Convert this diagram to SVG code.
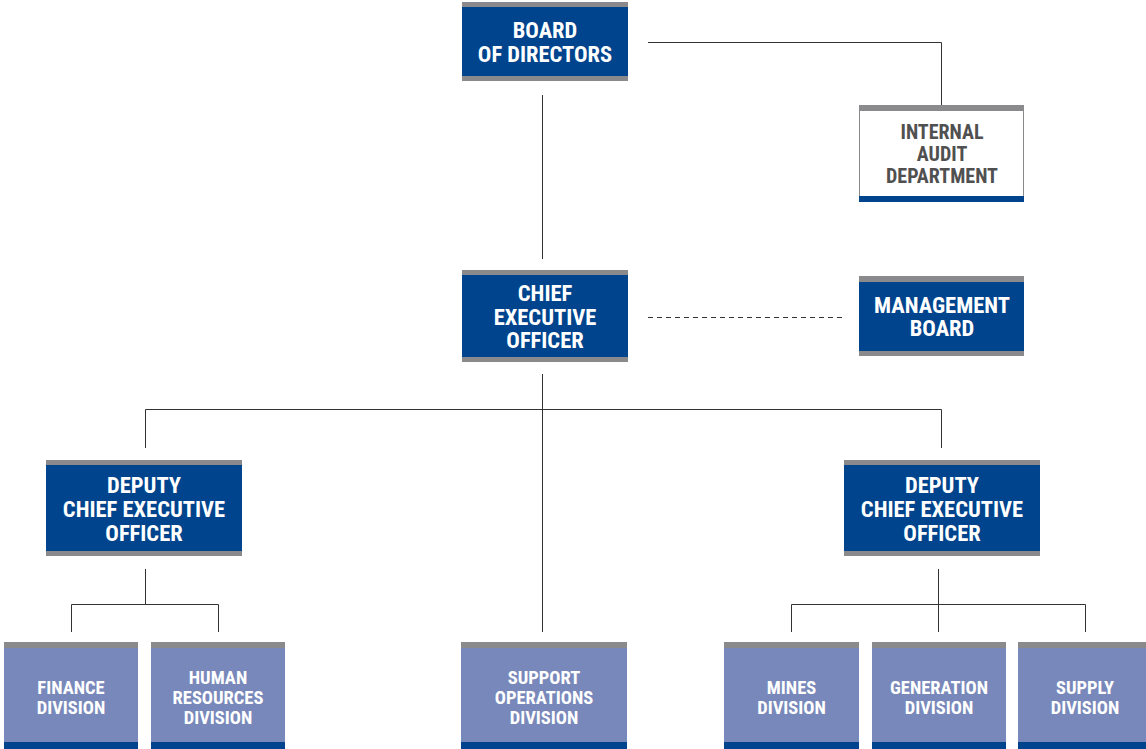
<svg xmlns="http://www.w3.org/2000/svg" width="1146" height="749" viewBox="0 0 1146 749">
<style>
.dk{fill:#00448d}
.lt{fill:#7888ba}
.gr{fill:#8a8a8c}
.bl{fill:#00448d}
.t{font-family:"Liberation Sans Narrow","Roboto Condensed","DejaVu Sans Condensed",sans-serif;font-weight:bold;fill:#fff;text-anchor:middle}
.big{font-size:22.5px}
.sm{font-size:18.5px}
.ia{font-size:20px;fill:#505050}
.c{stroke:#333;stroke-width:1;fill:none}
</style>
<rect width="1146" height="749" fill="#fff"/>
<g id="connectors">
<polyline class="c" points="648,42.5 941.5,42.5 941.5,105"/>
<line class="c" x1="542.5" y1="95" x2="542.5" y2="259"/>
<line class="c" x1="648" y1="317.5" x2="843" y2="317.5" stroke-dasharray="5,4"/>
<line class="c" x1="542.5" y1="374" x2="542.5" y2="632"/>
<polyline class="c" points="145.5,448 145.5,409.5 941.5,409.5 941.5,448"/>
<line class="c" x1="145.5" y1="569" x2="145.5" y2="604"/>
<polyline class="c" points="71.5,632 71.5,604.5 218.5,604.5 218.5,632"/>
<line class="c" x1="938.5" y1="569" x2="938.5" y2="632"/>
<polyline class="c" points="791.5,632 791.5,604.5 1085.5,604.5 1085.5,632"/>
</g>
<g id="board">
<rect class="gr" x="462" y="2" width="166" height="79"/>
<rect class="dk" x="462" y="7" width="166" height="69"/>
<text class="t big" x="545" y="38">BOARD</text>
<text class="t big" x="545" y="61.5">OF DIRECTORS</text>
</g>
<g id="audit">
<rect x="859.5" y="106" width="164" height="95" fill="#fff" stroke="#8a8a8c" stroke-width="1"/>
<rect class="gr" x="859" y="105" width="165" height="6"/>
<rect class="bl" x="859" y="196" width="165" height="6"/>
<text class="t ia" x="942" y="139">INTERNAL</text>
<text class="t ia" x="942" y="161">AUDIT</text>
<text class="t ia" x="942" y="183">DEPARTMENT</text>
</g>
<g id="ceo">
<rect class="gr" x="462" y="270" width="166" height="92"/>
<rect class="dk" x="462" y="275" width="166" height="82"/>
<text class="t big" x="545" y="301">CHIEF</text>
<text class="t big" x="545" y="324.5">EXECUTIVE</text>
<text class="t big" x="545" y="348">OFFICER</text>
</g>
<g id="mgmt">
<rect class="gr" x="859" y="276" width="165" height="80"/>
<rect class="dk" x="859" y="282" width="165" height="69"/>
<text class="t big" x="942" y="312.5">MANAGEMENT</text>
<text class="t big" x="942" y="336">BOARD</text>
</g>
<g id="deputy-left">
<rect class="gr" x="46" y="460" width="196" height="96"/>
<rect class="dk" x="46" y="465" width="196" height="86"/>
<text class="t big" x="144" y="493">DEPUTY</text>
<text class="t big" x="144" y="517">CHIEF EXECUTIVE</text>
<text class="t big" x="144" y="540.5">OFFICER</text>
</g>
<g id="deputy-right">
<rect class="gr" x="844" y="460" width="196" height="96"/>
<rect class="dk" x="844" y="465" width="196" height="86"/>
<text class="t big" x="942" y="493">DEPUTY</text>
<text class="t big" x="942" y="517">CHIEF EXECUTIVE</text>
<text class="t big" x="942" y="540.5">OFFICER</text>
</g>
<g id="finance">
<rect class="gr" x="4" y="642" width="134" height="7"/>
<rect class="lt" x="4" y="648" width="134" height="95"/>
<rect class="bl" x="4" y="742" width="134" height="7"/>
<text class="t sm" x="71" y="694">FINANCE</text>
<text class="t sm" x="71" y="714">DIVISION</text>
</g>
<g id="hr">
<rect class="gr" x="151" y="642" width="134" height="7"/>
<rect class="lt" x="151" y="648" width="134" height="95"/>
<rect class="bl" x="151" y="742" width="134" height="7"/>
<text class="t sm" x="218" y="684">HUMAN</text>
<text class="t sm" x="218" y="704">RESOURCES</text>
<text class="t sm" x="218" y="724">DIVISION</text>
</g>
<g id="support">
<rect class="gr" x="461" y="642" width="166" height="7"/>
<rect class="lt" x="461" y="648" width="166" height="95"/>
<rect class="bl" x="461" y="742" width="166" height="7"/>
<text class="t sm" x="544" y="684">SUPPORT</text>
<text class="t sm" x="544" y="704">OPERATIONS</text>
<text class="t sm" x="544" y="724">DIVISION</text>
</g>
<g id="mines">
<rect class="gr" x="724" y="642" width="135" height="7"/>
<rect class="lt" x="724" y="648" width="135" height="95"/>
<rect class="bl" x="724" y="742" width="135" height="7"/>
<text class="t sm" x="791.5" y="694">MINES</text>
<text class="t sm" x="791.5" y="714">DIVISION</text>
</g>
<g id="generation">
<rect class="gr" x="872" y="642" width="134" height="7"/>
<rect class="lt" x="872" y="648" width="134" height="95"/>
<rect class="bl" x="872" y="742" width="134" height="7"/>
<text class="t sm" x="939" y="694">GENERATION</text>
<text class="t sm" x="939" y="714">DIVISION</text>
</g>
<g id="supply">
<rect class="gr" x="1018" y="642" width="128" height="7"/>
<rect class="lt" x="1018" y="648" width="128" height="95"/>
<rect class="bl" x="1018" y="742" width="128" height="7"/>
<text class="t sm" x="1085" y="694">SUPPLY</text>
<text class="t sm" x="1085" y="714">DIVISION</text>
</g>
</svg>
